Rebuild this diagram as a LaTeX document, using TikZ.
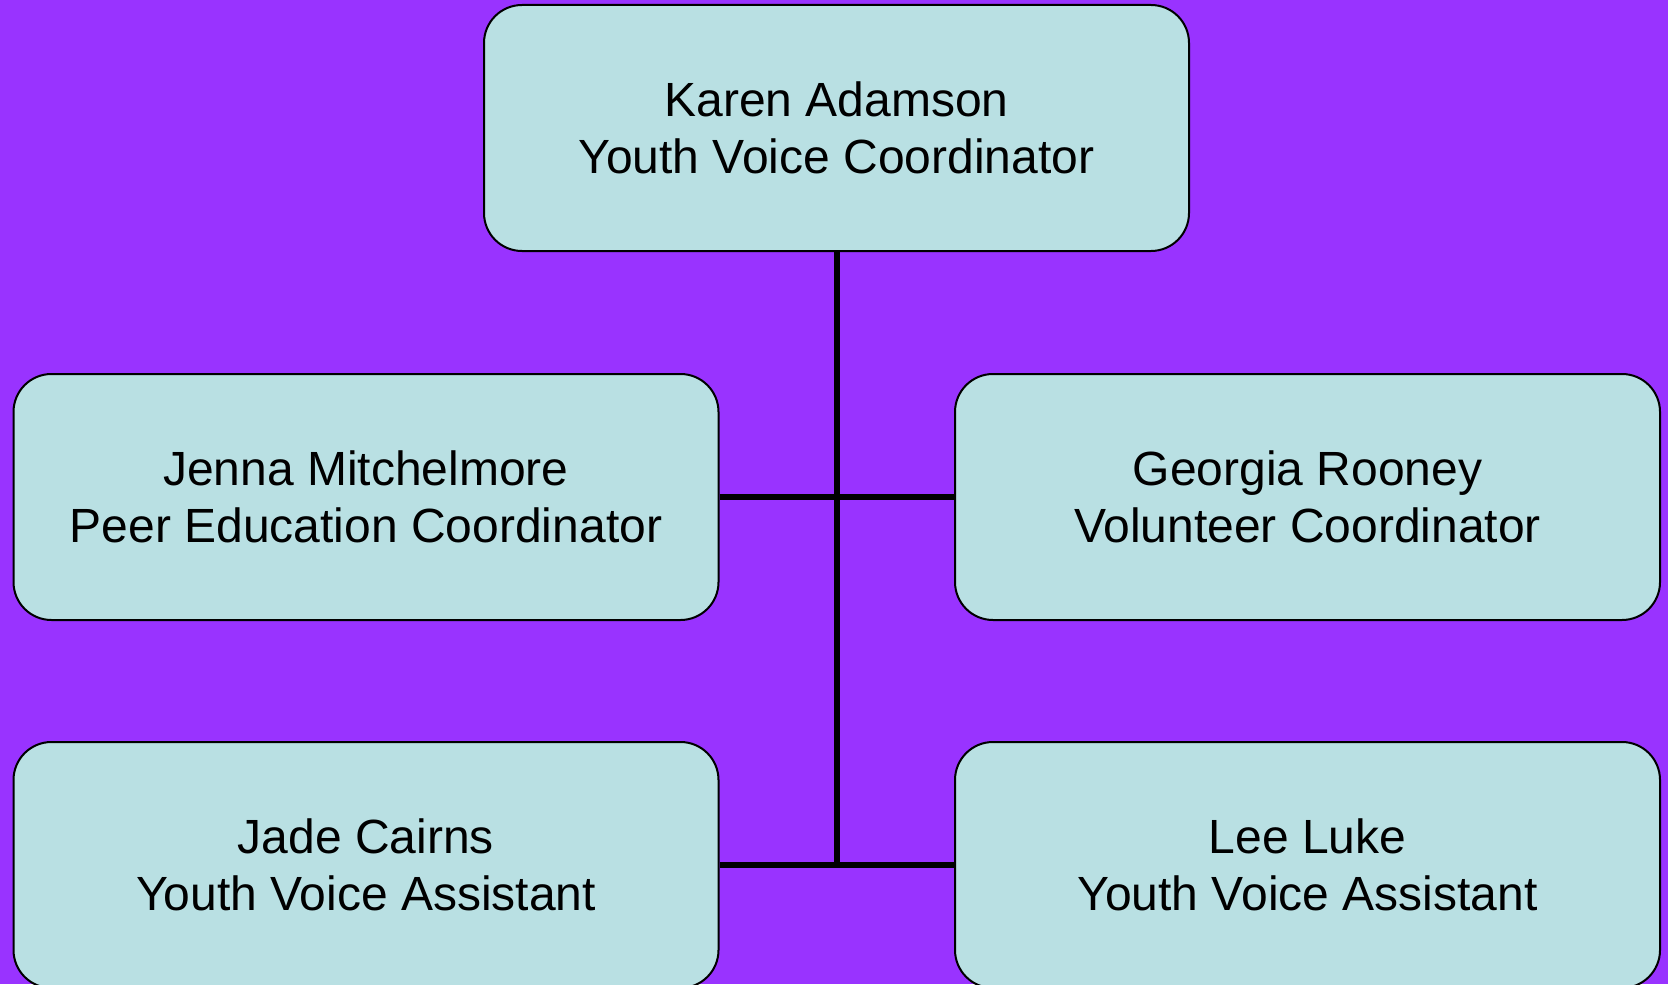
\documentclass[tikz,border=0pt]{standalone}
\usepackage{fontspec}
\setmainfont{Liberation Sans}
\usepackage{xcolor}
\usetikzlibrary{positioning}

\definecolor{bgpurple}{HTML}{9933FF}
\definecolor{boxteal}{HTML}{B9E0E3}

\begin{document}
\begin{tikzpicture}[
x=0.5pt, y=-0.5pt,
staffnode/.style={rounded corners=19pt, draw=black, fill=boxteal, line width=1pt, minimum width=352.5pt, minimum height=123pt, align=center, font=\fontsize{24}{28.7}\selectfont},
connector/.style={draw=black, line width=3pt},
]
\useasboundingbox (0,0) rectangle (1668,984);
\fill[bgpurple] (0,0) rectangle (1668,984);

%Nodes
\node[staffnode] (adamson) at (836.5,128) { Karen Adamson\\Youth Voice Coordinator };
\node[staffnode] (mitchelmore) at (366,497) { Jenna Mitchelmore\\Peer Education Coordinator };
\node[staffnode] (rooney) at (1307.5,497) { Georgia Rooney\\Volunteer Coordinator };
\node[staffnode] (cairns) at (366,865) { Jade Cairns\\Youth Voice Assistant };
\node[staffnode] (luke) at (1307.5,865) { Lee Luke\\Youth Voice Assistant };
\coordinate (trunk_end) at (adamson.south |- cairns.east);

%Lines
\draw[connector] (adamson.south) -- (trunk_end);
\draw[connector] (mitchelmore.east) -- (rooney.west);
\draw[connector] (cairns.east) -- (luke.west);

\end{tikzpicture}
\end{document}
